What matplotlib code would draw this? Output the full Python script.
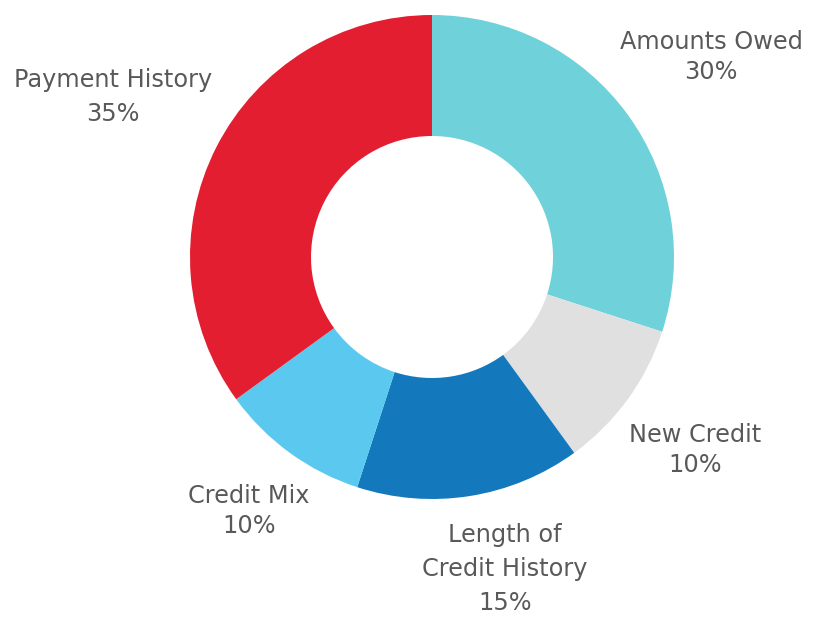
import matplotlib
matplotlib.use("Agg")
import matplotlib.pyplot as plt

categories = ["Amounts Owed", "New Credit", "Length of\nCredit History", "Credit Mix", "Payment History"]
shares = [30, 10, 15, 10, 35]
colors = ["#6FD1D9", "#E0E0E0", "#1479BC", "#5BC8EF", "#E31E30"]

W, H = 815, 629
fig = plt.figure(figsize=(W / 100, H / 100), dpi=100)
ax = fig.add_axes([0, 0, 1, 1])

cx, cy, r = 432, H - 257, 242
ax.pie(shares, colors=colors, startangle=90, counterclock=False,
       center=(cx, cy), radius=r, wedgeprops=dict(width=r - 121, linewidth=0),
       frame=True)
ax.set_xlim(0, W)
ax.set_ylim(0, H)
ax.set_aspect("equal")
ax.axis("off")

# label anchor points (pixel coordinates, y measured from top) and line spacing
label_layout = [(711, 57, 1.27), (695, 450, 1.3), (505, 569, 1.52),
                (249, 511, 1.32), (113, 97, 1.52)]
for name, val, (lx, ly, ls) in zip(categories, shares, label_layout):
    ax.text(lx, H - ly, f"{name}\n{val}%", ha="center", va="center",
            fontsize=17.3, color="#595959", family="DejaVu Sans", linespacing=ls)

fig.savefig("out.png", dpi=100)
